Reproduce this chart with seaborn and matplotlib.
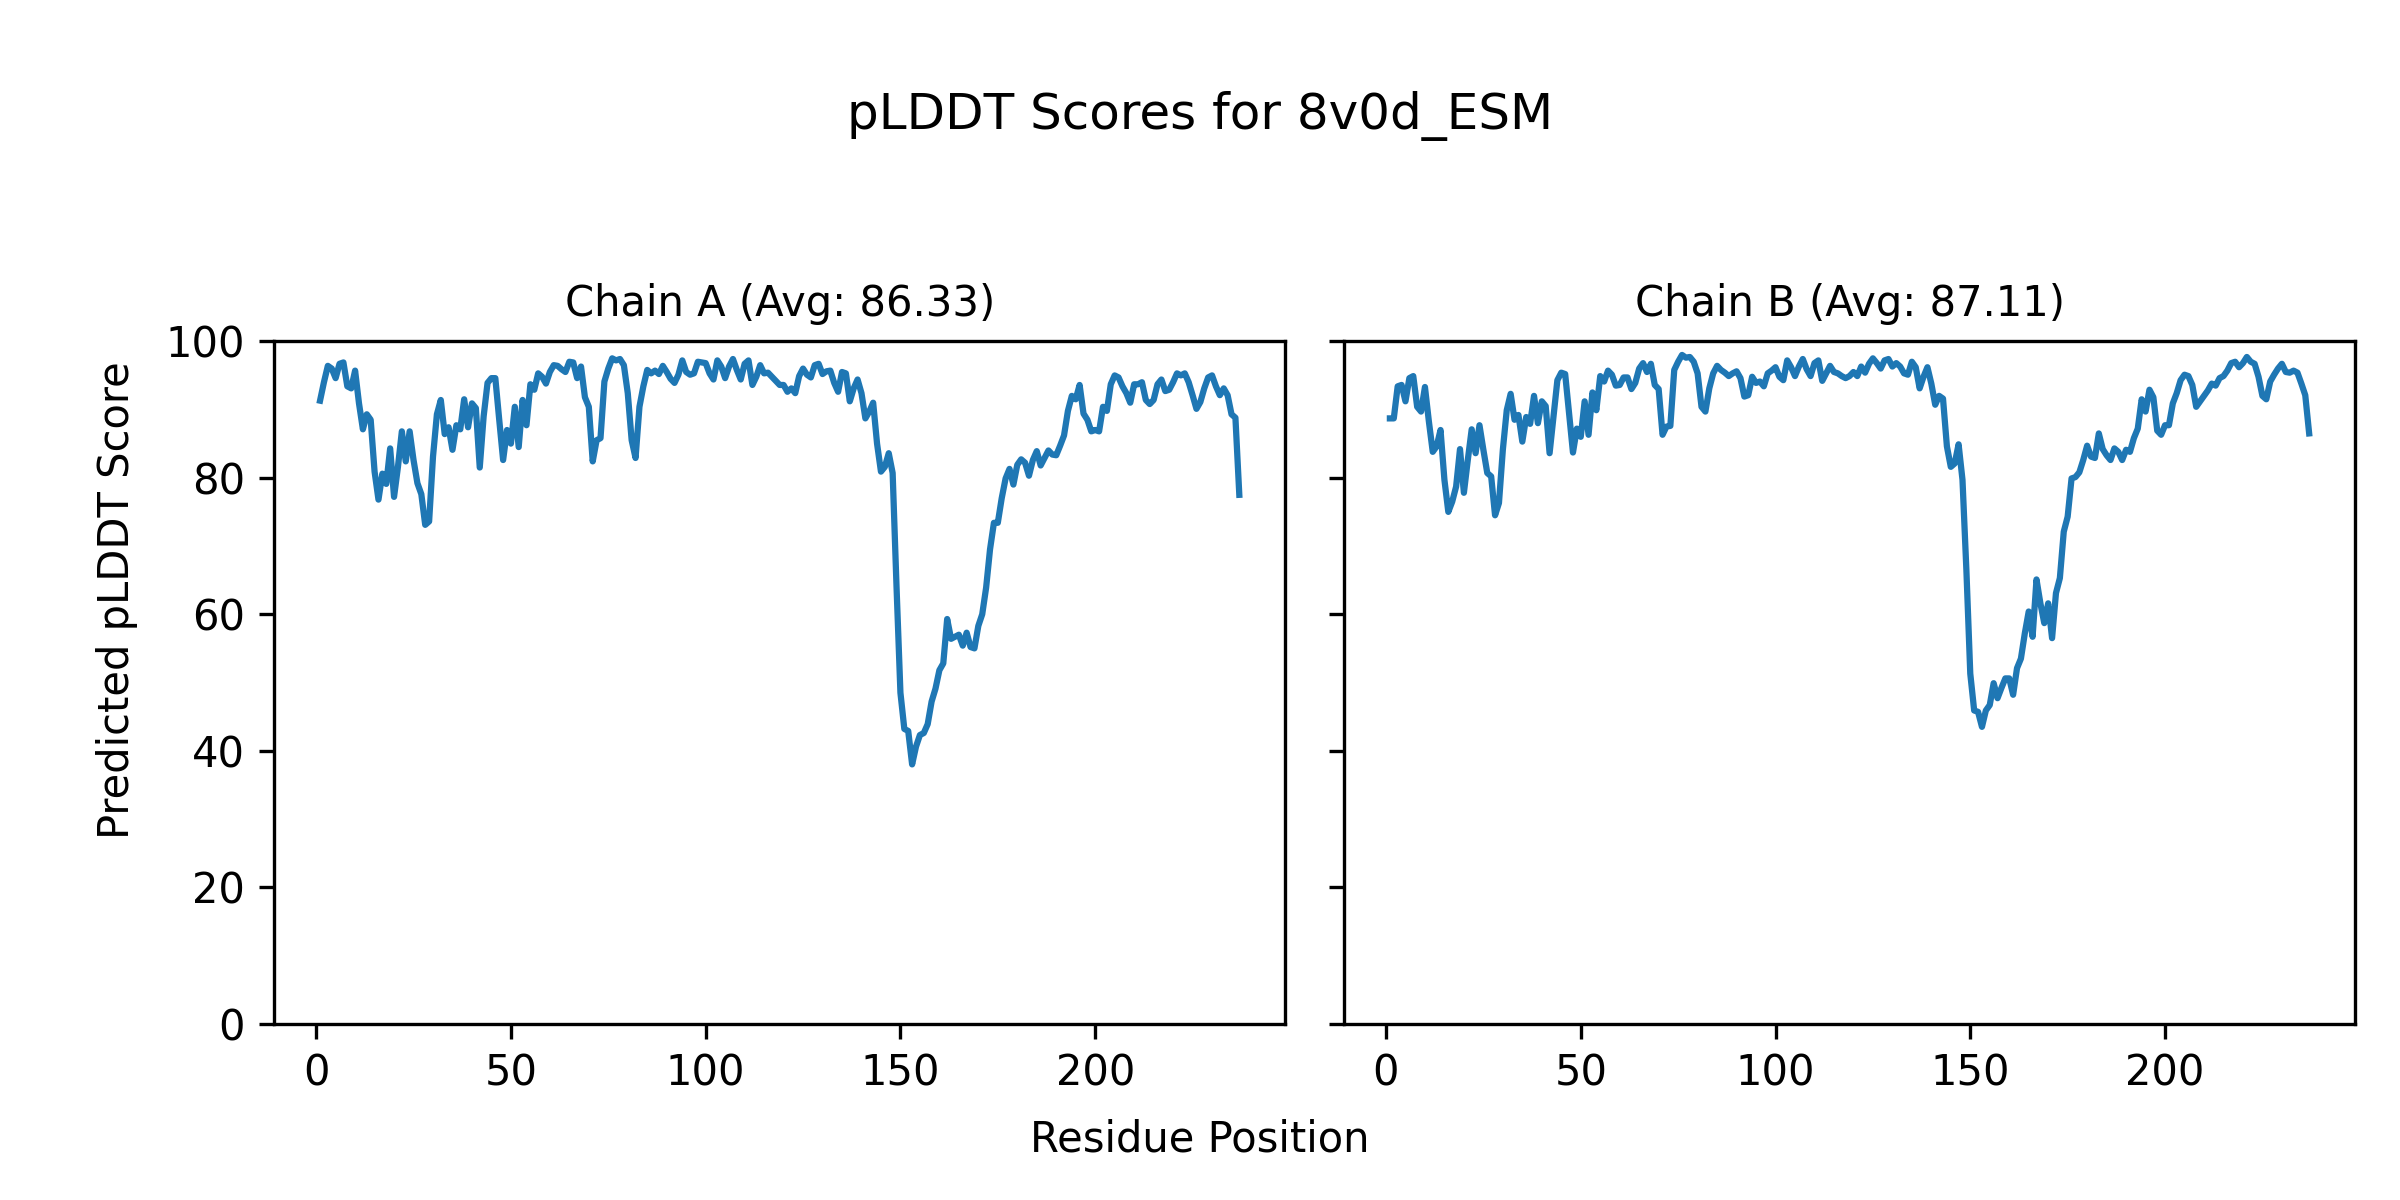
import numpy as np
import pandas as pd
import matplotlib
matplotlib.use("Agg")
import matplotlib.pyplot as plt
import seaborn as sns

title = "pLDDT Scores for 8v0d_ESM"
chain_titles = ["Chain A (Avg: 86.33)", "Chain B (Avg: 87.11)"]
x_label = "Residue Position"
y_label = "Predicted pLDDT Score"

plddt_a = [
    91.3, 94.0, 96.4, 96.0, 94.6, 96.7, 96.9, 93.4, 93.1, 95.7,
    90.9, 87.1, 89.3, 88.5, 80.9, 76.8, 80.6, 79.1, 84.3, 77.2,
    81.6, 86.8, 82.4, 86.8, 82.6, 79.2, 77.6, 73.1, 73.6, 83.1,
    89.3, 91.4, 86.4, 87.4, 84.1, 87.7, 87.1, 91.5, 87.4, 90.9,
    90.2, 81.5, 89.0, 93.9, 94.6, 94.6, 88.5, 82.6, 87.0, 85.0,
    90.4, 84.5, 91.4, 87.7, 93.7, 92.9, 95.3, 94.8, 93.8, 95.5,
    96.5, 96.4, 95.9, 95.5, 97.0, 96.9, 94.6, 96.3, 91.8, 90.4,
    82.4, 85.5, 85.8, 94.1, 96.0, 97.5, 97.2, 97.4, 96.5, 92.4,
    85.5, 82.9, 90.4, 93.4, 95.8, 95.3, 95.7, 95.2, 96.4, 95.5,
    94.5, 93.9, 95.1, 97.2, 95.5, 95.1, 95.3, 97.0, 96.9, 96.8,
    95.3, 94.4, 97.2, 96.3, 94.6, 96.3, 97.4, 95.8, 94.4, 96.7,
    97.2, 93.6, 94.8, 96.5, 95.3, 95.4, 94.8, 94.2, 93.6, 93.6,
    92.6, 93.1, 92.4, 94.9, 96.0, 95.1, 94.7, 96.5, 96.7, 95.2,
    95.6, 95.7, 93.9, 92.6, 95.5, 95.3, 91.2, 93.1, 94.4, 92.4,
    88.7, 89.7, 91.0, 85.0, 80.9, 81.6, 83.6, 80.7, 64.0, 48.5,
    43.2, 42.9, 38.0, 40.6, 42.3, 42.6, 43.9, 47.2, 49.1, 51.8,
    52.8, 59.3, 56.4, 56.7, 57.0, 55.4, 57.3, 55.2, 55.0, 58.3,
    60.0, 63.9, 69.5, 73.4, 73.4, 77.0, 79.9, 81.3, 79.0, 81.9,
    82.7, 82.2, 80.3, 82.6, 83.9, 81.8, 82.9, 84.0, 83.4, 83.3,
    84.7, 86.2, 89.8, 92.0, 91.5, 93.6, 89.4, 88.5, 86.8, 87.0,
    86.8, 90.4, 89.8, 93.7, 95.0, 94.7, 93.4, 92.4, 91.0, 93.7,
    93.7, 94.0, 91.4, 90.8, 91.4, 93.7, 94.4, 92.7, 92.9, 94.0,
    95.3, 95.0, 95.3, 94.0, 92.1, 90.1, 91.1, 93.1, 94.7, 95.0,
    93.4, 92.1, 93.1, 92.1, 89.3, 88.8, 77.5,
]

plddt_b = [
    88.7, 88.7, 93.4, 93.6, 91.2, 94.6, 94.9, 90.4, 89.7, 93.3,
    88.3, 83.8, 84.6, 87.0, 79.7, 75.0, 76.5, 78.7, 84.2, 77.8,
    82.6, 87.1, 83.6, 87.7, 84.1, 80.7, 80.2, 74.5, 76.3, 84.1,
    89.9, 92.3, 88.5, 89.2, 85.3, 88.9, 87.9, 92.0, 88.0, 91.2,
    90.5, 83.6, 89.0, 94.3, 95.4, 95.2, 89.4, 83.7, 87.2, 86.0,
    91.2, 86.3, 92.5, 89.9, 94.9, 94.1, 95.7, 95.1, 93.5, 93.6,
    94.7, 94.7, 93.0, 93.9, 96.0, 96.8, 95.5, 96.7, 93.6, 93.0,
    86.3, 87.5, 87.6, 95.8, 97.0, 98.0, 97.6, 97.7, 97.0, 95.3,
    90.4, 89.7, 93.1, 95.3, 96.4, 95.8, 95.4, 94.9, 95.3, 95.6,
    94.6, 91.9, 92.1, 94.8, 93.9, 94.1, 93.4, 95.3, 95.7, 96.2,
    94.8, 94.3, 97.2, 96.2, 94.9, 96.3, 97.4, 95.9, 94.9, 96.8,
    97.2, 94.2, 95.3, 96.4, 95.5, 95.3, 94.9, 94.6, 94.9, 95.5,
    94.9, 96.3, 95.4, 96.7, 97.5, 96.8, 96.0, 97.2, 97.4, 96.3,
    96.8, 96.3, 95.3, 95.1, 97.0, 96.2, 93.1, 94.8, 96.2, 93.8,
    90.7, 92.0, 91.6, 84.6, 81.6, 82.1, 84.9, 79.7, 66.5, 51.3,
    45.9, 45.7, 43.5, 45.9, 46.7, 49.9, 47.7, 49.2, 50.6, 50.6,
    48.2, 52.1, 53.5, 57.2, 60.4, 56.7, 65.1, 61.6, 58.7, 61.6,
    56.5, 63.1, 65.3, 72.1, 74.3, 79.9, 80.1, 80.8, 82.6, 84.7,
    83.1, 82.9, 86.5, 84.2, 83.3, 82.6, 84.3, 83.8, 82.6, 84.1,
    83.8, 85.8, 87.2, 91.5, 89.7, 92.9, 91.8, 86.9, 86.3, 87.7,
    87.7, 90.9, 92.4, 94.3, 95.1, 94.9, 93.6, 90.4, 91.2, 92.0,
    92.8, 93.8, 93.5, 94.6, 94.9, 95.7, 96.8, 97.0, 96.2, 96.8,
    97.7, 97.0, 96.7, 94.8, 92.0, 91.5, 94.1, 95.1, 96.0, 96.7,
    95.5, 95.4, 95.7, 95.4, 93.8, 92.1, 86.5,
]

residues_a = np.arange(1, len(plddt_a) + 1)
residues_b = np.arange(1, len(plddt_b) + 1)

fig, axes = plt.subplots(1, 2, figsize=(8, 4), dpi=300, sharey=True)
fig.subplots_adjust(left=0.1142, right=0.9813, bottom=0.1469, top=0.7156, wspace=0.058)

for ax, res, vals, ttl in zip(axes, [residues_a, residues_b], [plddt_a, plddt_b], chain_titles):
    df = pd.DataFrame({"res": res, "plddt": vals})
    sns.lineplot(data=df, x="res", y="plddt", ax=ax, color="#1f77b4", linewidth=1.5)
    ax.set_title(ttl, fontsize=10)
    ax.set_xlabel("")
    ax.set_ylabel("")
    ax.set_ylim(0, 100)
    ax.set_xticks([0, 50, 100, 150, 200])

fig.suptitle(title, fontsize=12, y=0.903, va="center")
fig.text(0.5, 0.04, x_label, ha="center", fontsize=10)
fig.text(0.04, 0.5, y_label, va="center", rotation="vertical", fontsize=10)

fig.savefig("out.png", dpi=300)
